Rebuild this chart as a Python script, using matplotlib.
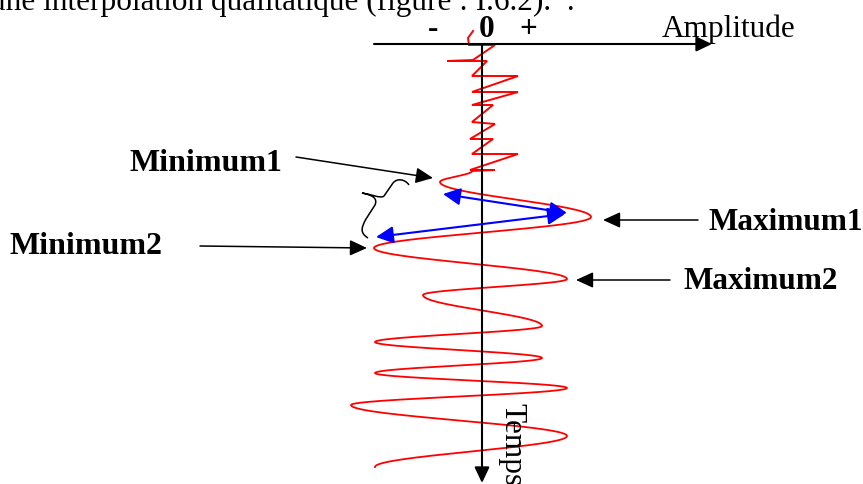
import numpy as np
import matplotlib
matplotlib.use("Agg")
import matplotlib.pyplot as plt
from matplotlib.path import Path
from matplotlib.patches import PathPatch, FancyArrowPatch

plt.rcParams["font.family"] = ["Liberation Serif", "DejaVu Serif"]

# Noisy onset of the trace: amplitude (right = +) against time (downwards)
onset_amp = [-9, -14, -13, 13, -9, -35, 5, -10, 36, -10, 36, -10, 11, -10, 13, -12, 11, -10, 36, -12, 13, -10]
onset_time = [-13, -6, 1, 1, 16, 17, 17, 32, 32, 48, 48, 61, 61, 78, 80, 95, 95, 110, 110, 126, 126, 127]

# Successive extrema of the oscillating part of the trace
wave_time = [127, 138, 173, 204, 235, 251, 282, 298, 314, 329, 344, 361, 392, 423]
wave_amp = [-10, -42, 109, -108, 85, -59, 60, -107, 60, -107, 85, -131, 85, -107]

labels = ["Minimum1", "Minimum2", "Maximum1", "Maximum2"]

RED = "#ff0000"
BLUE = "#0000ff"
FS = 22.5
FS_BOLD = 23

fig = plt.figure(figsize=(8.63, 4.84), dpi=100)
ax = fig.add_axes([0, 0, 1, 1])
ax.set_xlim(-482, 381)
ax.set_ylim(440, -44)
ax.axis("off")


def arrow(start, tip, color, lw, hl, hw, both=False, z=3):
    style = ("<|-|>" if both else "-|>") + f",head_length={hl},head_width={hw}"
    ax.add_patch(FancyArrowPatch(start, tip, arrowstyle=style, mutation_scale=10,
                                 color=color, lw=lw, shrinkA=0, shrinkB=0, zorder=z))


# cut-off line of running text above the figure
ax.text(-492, -34, "une interpolation qualitatique (figure : I.6.2).  .",
        fontsize=FS, ha="left", va="baseline")

# axes of the diagram
arrow((-108, 0), (230, 0), "black", 1.5, 0.95, 0.45, z=4)
arrow((0, 0), (0, 439), "black", 1.5, 0.95, 0.45, z=4)
ax.text(180, -7, "Amplitude", fontsize=FS, ha="left", va="baseline")
ax.text(-49, -7, "-", fontsize=FS, fontweight="bold", ha="center", va="baseline")
ax.text(5, -7, "0", fontsize=FS, fontweight="bold", ha="center", va="baseline")
ax.text(46, -7, "+", fontsize=FS, fontweight="bold", ha="center", va="baseline")
ax.text(30, 359, "Temps", fontsize=FS, rotation=-90, ha="center", va="top")

# trace: straight jagged onset, then cosine-shaped swings between extrema
ax.plot(onset_amp, onset_time, color=RED, lw=1.4, solid_joinstyle="miter", zorder=2)
wx, wy = [], []
for i in range(len(wave_time) - 1):
    s = np.linspace(0, 1, 60)
    g = (1 - np.cos(np.pi * s)) / 2
    wy.append(wave_time[i] + (wave_time[i + 1] - wave_time[i]) * s)
    wx.append(wave_amp[i] + (wave_amp[i + 1] - wave_amp[i]) * g)
ax.plot(np.concatenate(wx), np.concatenate(wy), color=RED, lw=1.3, zorder=2)

# interval arrows between the first extrema
arrow((-39, 150), (85, 169), BLUE, 1.5, 1.05, 0.52, both=True, z=5)
arrow((-106, 193), (83, 170), BLUE, 1.5, 1.05, 0.52, both=True, z=5)

# brace grouping the two minima
bx = [409, 405, 397, 393, 384, 381, 370, 362, 372, 378, 375, 366, 361, 360, 368]
by = [185, 179, 178, 183, 196, 199, 194, 193, 195, 198, 205, 219, 228, 233, 238]
codes = [Path.MOVETO, Path.CURVE4, Path.CURVE4, Path.CURVE4, Path.LINETO,
         Path.CURVE4, Path.CURVE4, Path.CURVE4, Path.CURVE4, Path.CURVE4, Path.CURVE4,
         Path.LINETO, Path.CURVE4, Path.CURVE4, Path.CURVE4]
verts = [(x - 482, y - 44) for x, y in zip(bx, by)]
ax.add_patch(PathPatch(Path(verts, codes), fill=False, lw=1.1, color="black", zorder=3))

# labelled pointers
arrow((-186, 113), (-49, 134), "black", 1.1, 1.05, 0.48)
arrow((-282, 202), (-115, 204), "black", 1.1, 1.05, 0.48)
arrow((216, 176), (121, 176), "black", 1.1, 1.05, 0.48)
arrow((188, 236), (94, 236), "black", 1.1, 1.05, 0.48)
ax.text(-352, 127, labels[0], fontsize=FS_BOLD, fontweight="bold", ha="left", va="baseline")
ax.text(-472, 210, labels[1], fontsize=FS_BOLD, fontweight="bold", ha="left", va="baseline")
ax.text(226, 186, labels[2], fontsize=FS, fontweight="bold", ha="left", va="baseline")
ax.text(201, 245, labels[3], fontsize=FS, fontweight="bold", ha="left", va="baseline")

fig.savefig("out.png", dpi=100)
